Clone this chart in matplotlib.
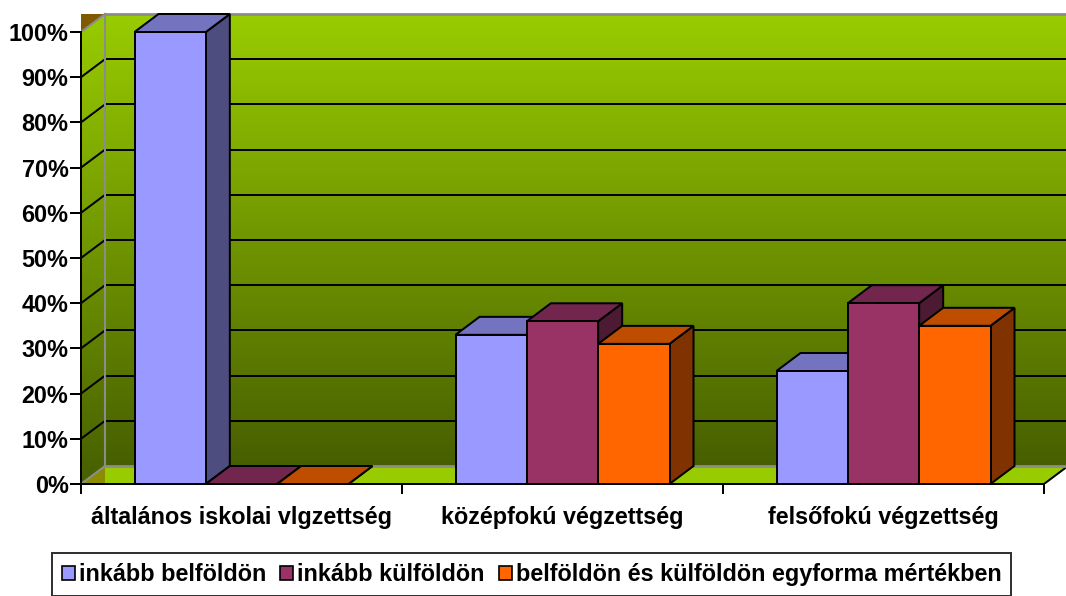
import matplotlib.pyplot as plt
import matplotlib.patches as mpatches
import numpy as np
from matplotlib.colors import to_rgb

# data
categories = ["általános iskolai vlgzettség", "középfokú végzettség", "felsőfokú végzettség"]
series_names = ["inkább belföldön", "inkább külföldön",
                "belföldön és külföldön egyforma mértékben"]
belfoldon = [100, 33, 25]
kulfoldon = [0, 36, 40]
egyforma = [0, 31, 35]
y_ticks = [0, 10, 20, 30, 40, 50, 60, 70, 80, 90, 100]
y_tick_labels = [f"{t}%" for t in y_ticks]

series = [belfoldon, kulfoldon, egyforma]
colors = ["#9999FF", "#993366", "#FF6600"]

plt.rcParams['font.family'] = ['Liberation Sans', 'DejaVu Sans']
plt.rcParams['font.weight'] = 'bold'

W, H = 1066, 596
fig = plt.figure(figsize=(W / 100, H / 100), dpi=100)

# pseudo-3d layout (in px of the reference)
px_left, px_base, px_top = 81, 484, 12
px_group = 321
px_pct = 4.52
depth_x = 24 / px_group
depth_y = 18 / px_pct
x_max = (W - px_left) / px_group
y_max = (px_base - px_top) / px_pct

ax = fig.add_axes([px_left / W, (H - px_base) / H, (W - px_left) / W, (px_base - px_top) / H])
ax.set_xlim(0, x_max)
ax.set_ylim(0, y_max)
ax.patch.set_visible(False)

lw = 1.44
fs = 16.8
n_cat = len(categories)
y_top = y_ticks[-1]


def shade(c, f):
    return tuple(v * f for v in to_rgb(c))


def gradient(n=256):
    top = np.array(to_rgb("#99CC00"))
    bot = np.array(to_rgb("#475F00"))
    t = np.linspace(0, 1, n)[:, None]
    return (top * (1 - t) + bot * t)[:, None, :]


# back wall
ax.imshow(gradient(), extent=[depth_x, x_max, depth_y, y_top + depth_y],
          aspect='auto', origin='upper', zorder=0, interpolation='bilinear')
# left wall
left_wall = mpatches.Polygon([(0, 0), (0, y_top), (depth_x, y_top + depth_y), (depth_x, depth_y)],
                             closed=True, facecolor='none', edgecolor='none')
ax.add_patch(left_wall)
im = ax.imshow(gradient(), extent=[0, depth_x, 0, y_top + depth_y],
               aspect='auto', origin='upper', zorder=0, interpolation='bilinear')
im.set_clip_path(left_wall)
ax.add_patch(mpatches.Polygon([(0, y_top), (0, y_top + depth_y), (depth_x, y_top + depth_y)],
                              closed=True, facecolor="#7F5A00", edgecolor='none', zorder=0.5))

# floor
ax.add_patch(mpatches.Polygon([(0, 0), (n_cat, 0), (n_cat + depth_x, depth_y), (depth_x, depth_y)],
                              closed=True, facecolor="#99CC00", edgecolor='none', zorder=1))
ax.add_patch(mpatches.Polygon([(0, 0), (depth_x, depth_y), (depth_x, 0)],
                              closed=True, facecolor="#8C8C00", edgecolor='none', zorder=1.1))
ax.plot([n_cat, n_cat + depth_x], [0, depth_y], color='black', lw=lw, zorder=1.2)

# gridlines on walls
for t in y_ticks[1:-1]:
    ax.plot([depth_x, x_max], [t + depth_y, t + depth_y], color='black', lw=lw, zorder=1.5)
    ax.plot([0, depth_x], [t, t + depth_y], color='black', lw=lw, zorder=1.5)

# gray wall edges
gray = "#8C8C8C"
ax.plot([depth_x, x_max], [depth_y, depth_y], color=gray, lw=2.0, zorder=1.6)
ax.plot([depth_x, x_max], [y_top + depth_y, y_top + depth_y], color=gray, lw=2.0, zorder=1.6)
ax.plot([depth_x, depth_x], [depth_y, y_top + depth_y], color=gray, lw=1.5, zorder=1.6)
ax.plot([0, depth_x], [0, depth_y], color=gray, lw=1.5, zorder=1.6)
ax.plot([0, depth_x], [y_top, y_top + depth_y], color=gray, lw=1.5, zorder=1.6)

# bars
n_ser = len(series)
bar_w = 1 / (n_ser + 1.5)
for i in range(n_cat):
    for j in range(n_ser):
        v = series[j][i]
        c = colors[j]
        x0 = i + 0.75 * bar_w + j * bar_w
        kw = dict(closed=True, edgecolor='black', lw=lw, joinstyle='miter', zorder=3)
        ax.add_patch(mpatches.Polygon([(x0 + bar_w, 0), (x0 + bar_w + depth_x, depth_y),
                                       (x0 + bar_w + depth_x, v + depth_y), (x0 + bar_w, v)],
                                      facecolor=shade(c, 0.5), **kw))
        ax.add_patch(mpatches.Polygon([(x0, v), (x0 + bar_w, v), (x0 + bar_w + depth_x, v + depth_y),
                                       (x0 + depth_x, v + depth_y)],
                                      facecolor=shade(c, 0.75), **kw))
        ax.add_patch(mpatches.Rectangle((x0, 0), bar_w, v, facecolor=c, edgecolor='black',
                                        lw=lw, joinstyle='miter', zorder=3))

# axes
for s in ['top', 'right']:
    ax.spines[s].set_visible(False)
ax.spines['left'].set_bounds(0, y_top)
ax.spines['bottom'].set_bounds(0, n_cat)
for s in ['left', 'bottom']:
    ax.spines[s].set_linewidth(lw)
    ax.spines[s].set_zorder(4)

ax.set_yticks(y_ticks)
ax.set_yticklabels(y_tick_labels, fontsize=fs, fontweight='bold')
ax.tick_params(axis='y', length=8, width=lw, pad=1)

ax.set_xticks(np.arange(n_cat + 1))
ax.set_xticklabels([])
ax.set_xticks(np.arange(n_cat) + 0.5, minor=True)
ax.set_xticklabels(categories, minor=True, fontsize=fs, fontweight='bold')
ax.tick_params(axis='x', which='major', length=7, width=lw)
ax.tick_params(axis='x', which='minor', length=0, pad=16)

handles = [mpatches.Patch(facecolor=c, edgecolor='black', lw=1.2) for c in colors]
leg = fig.legend(handles, series_names, loc='upper left', bbox_to_anchor=(52 / W, 1 - 553 / H),
                 ncol=3, frameon=True, fancybox=False, edgecolor='black', borderaxespad=0,
                 handlelength=0.55, handleheight=0.55, handletextpad=0.18, columnspacing=0.6,
                 borderpad=0.42, prop={'size': fs, 'weight': 'bold'})
leg.get_frame().set_linewidth(lw)

plt.savefig("out.png", dpi=100)
